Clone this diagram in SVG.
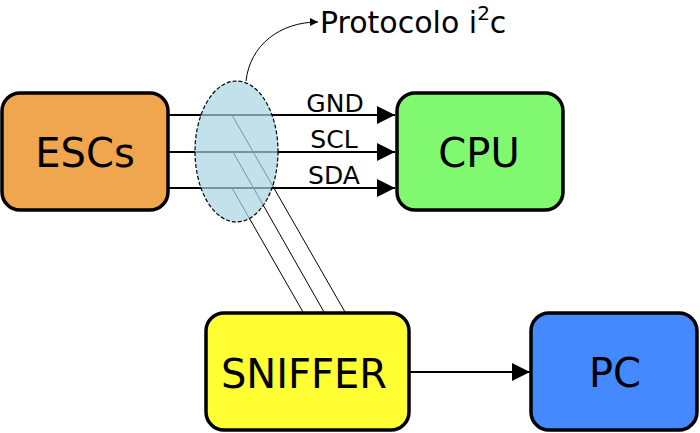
<svg xmlns="http://www.w3.org/2000/svg" width="700" height="433" viewBox="0 0 700 433">
<defs>
<style>
.box{stroke:#000;stroke-width:3.5}
.lbl{font-family:"DejaVu Sans",sans-serif;fill:#000;text-anchor:middle}
.big{font-size:40px}
.wire{stroke:#000;stroke-width:2;fill:none}
.thin{stroke:#000;stroke-width:1;fill:none}
.sig{font-size:25px}
</style>
<marker id="ah" viewBox="0 0 18 18" refX="18" refY="9" markerWidth="18" markerHeight="18" markerUnits="userSpaceOnUse" orient="auto">
<path d="M0,0 L18,9 L0,18 Z" fill="#000"/>
</marker>
<marker id="sah" viewBox="0 0 8 8" refX="8" refY="4" markerWidth="8" markerHeight="8" markerUnits="userSpaceOnUse" orient="auto">
<path d="M0,0 L8,4 L0,8 Z" fill="#000"/>
</marker>
</defs>
<g id="connectors">
<line class="wire" x1="168" y1="115" x2="395" y2="115" marker-end="url(#ah)"/>
<line class="wire" x1="168" y1="152" x2="395" y2="152" marker-end="url(#ah)"/>
<line class="wire" x1="168" y1="188" x2="395" y2="188" marker-end="url(#ah)"/>
<line class="thin" x1="232" y1="115" x2="345" y2="312"/>
<line class="thin" x1="233" y1="152" x2="324" y2="312"/>
<line class="thin" x1="232" y1="188" x2="303" y2="312"/>
<line class="wire" x1="410" y1="372" x2="530" y2="372" marker-end="url(#ah)"/>
<path class="thin" d="M246,81 C250,45 280,22 318,22" marker-end="url(#sah)"/>
<text class="lbl sig" x="335" y="112">GND</text>
<text class="lbl sig" x="334" y="148">SCL</text>
<text class="lbl sig" x="334" y="184">SDA</text>
</g>
<g id="bus">
<ellipse cx="236.5" cy="151.5" rx="41.5" ry="70.5" fill="#a8d4e2" fill-opacity="0.7" stroke="#000" stroke-width="1.2" stroke-dasharray="4,2"/>
</g>
<g id="protocolo">
<text x="320" y="33" font-family="DejaVu Sans,sans-serif" font-size="30px">Protocolo i<tspan font-size="20px" dy="-13">2</tspan><tspan dy="13">c</tspan></text>
</g>
<g id="escs">
<rect class="box" x="2" y="93" width="166" height="117" rx="18" fill="#efa64f"/>
<text class="lbl big" x="85" y="167">ESCs</text>
</g>
<g id="cpu">
<rect class="box" x="397" y="93" width="166" height="117" rx="18" fill="#80f870"/>
<text class="lbl big" x="479" y="167">CPU</text>
</g>
<g id="sniffer">
<rect class="box" x="206" y="313" width="203" height="117" rx="18" fill="#ffff33"/>
<text class="lbl big" x="304" y="388">SNIFFER</text>
</g>
<g id="pc">
<rect class="box" x="531" y="313" width="166" height="117" rx="18" fill="#4589ff"/>
<text class="lbl big" x="615" y="387">PC</text>
</g>
</svg>
